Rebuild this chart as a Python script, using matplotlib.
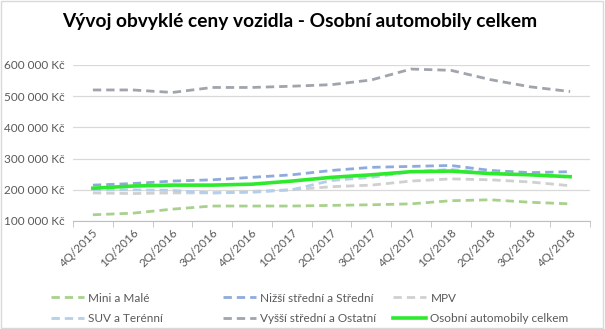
#!/usr/bin/env python3
"""Vývoj obvyklé ceny vozidla - line chart"""
import matplotlib
matplotlib.use('Agg')
import matplotlib.pyplot as plt
from matplotlib.ticker import FuncFormatter, MultipleLocator
from matplotlib.patches import Rectangle

quarters = ['4Q/2015', '1Q/2016', '2Q/2016', '3Q/2016', '4Q/2016', '1Q/2017', '2Q/2017',
            '3Q/2017', '4Q/2017', '1Q/2018', '2Q/2018', '3Q/2018', '4Q/2018']

mini_male   = [120000, 125000, 138000, 148000, 148000, 148000, 150000, 152000, 155000, 165000, 168000, 160000, 155000]
nizsi_str   = [215000, 220000, 228000, 232000, 240000, 248000, 262000, 272000, 275000, 278000, 262000, 255000, 258000]
mpv         = [190000, 188000, 190000, 190000, 195000, 200000, 210000, 215000, 228000, 235000, 232000, 225000, 213000]
suv         = [200000, 200000, 198000, 190000, 192000, 200000, 230000, 240000, 258000, 265000, 255000, 248000, 240000]
vyssi_str   = [520000, 520000, 512000, 528000, 528000, 532000, 537000, 552000, 587000, 583000, 553000, 530000, 515000]
celkem      = [205000, 212000, 215000, 215000, 218000, 228000, 240000, 248000, 258000, 260000, 252000, 248000, 242000]

series = [
    ('Mini a Malé', mini_male, '#A9D18E'),
    ('Nižší střední a Střední', nizsi_str, '#8FAADC'),
    ('MPV', mpv, '#D0D0D0'),
    ('SUV a Terénní', suv, '#B4CFEA'),
    ('Vyšší střední a Ostatní', vyssi_str, '#A0A4AC'),
]

plt.rcParams['font.family'] = ['Lato', 'DejaVu Sans']
fig = plt.figure(figsize=(6.05, 3.29), dpi=100)
ax = fig.add_axes([73/605, 1-221/329, 517/605, 156/329])

x = list(range(len(quarters)))
for label, vals, col in series:
    ax.plot(x, vals, color=col, lw=2.0, dashes=(3, 1.8), label=label, solid_capstyle='butt')
ax.plot(x, celkem, color='#2EEA2E', lw=2.6, label='Osobní automobily celkem')

ax.set_xlim(-0.5, len(quarters)-0.5)
ax.set_ylim(100000, 600000)
ax.yaxis.set_major_locator(MultipleLocator(100000))
ax.yaxis.set_major_formatter(FuncFormatter(lambda v, p: f'{int(v):,}'.replace(',', ' ') + ' Kč'))
ax.grid(axis='y', color='#D9D9D9', lw=0.9)
ax.set_axisbelow(True)
for s in ['top', 'right', 'left']:
    ax.spines[s].set_visible(False)
ax.spines['bottom'].set_color('#BFBFBF')
ax.tick_params(axis='y', length=0, labelsize=8.5, labelcolor='#595959', pad=6)
ax.set_xticks(x)
ax.set_xticklabels(quarters, rotation=45, ha='right', rotation_mode='anchor', fontsize=8.5, color='#595959')
ax.tick_params(axis='x', length=0, pad=4)
ax.set_xticks([i + 0.5 for i in range(-1, len(quarters))], minor=True)
ax.tick_params(axis='x', which='minor', length=4, color='#BFBFBF')

fig.text(62/605, 1-22/329, 'Vývoj obvyklé ceny vozidla - Osobní automobily celkem',
         fontsize=13.8, fontweight='bold', color='#000000', va='center')

# three legend columns with equal spacing, like the Excel legend
handles, labels = ax.get_legend_handles_labels()
columns = [[0, 3], [1, 4], [2, 5]]
col_x = [40, 212, 382]
for idx, cx in zip(columns, col_x):
    leg = fig.legend([handles[i] for i in idx], [labels[i] for i in idx], frameon=False,
                     loc='upper left', bbox_to_anchor=(cx/605, 1-282/329), fontsize=8.5,
                     labelcolor='#595959', handlelength=2.8, handletextpad=0.4, labelspacing=0.8)

fig.patches.append(Rectangle((0.002, 0.003), 0.995, 0.994, transform=fig.transFigure,
                             fill=False, edgecolor='#D9D9D9', lw=1))
fig.savefig('out.png', dpi=100)
